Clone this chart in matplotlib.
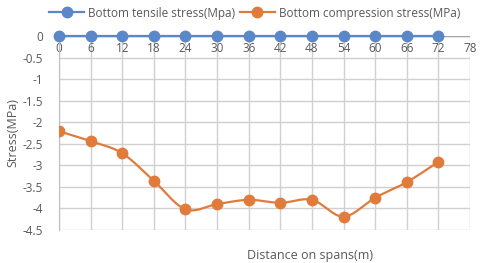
import numpy as np
import matplotlib.pyplot as plt

plt.rcParams['font.family'] = ['Open Sans', 'DejaVu Sans']

# data
distance = [0, 6, 12, 18, 24, 30, 36, 42, 48, 54, 60, 66, 72]
tensile = [0, 0, 0, 0, 0, 0, 0, 0, 0, 0, 0, 0, 0]
compression = [-2.21, -2.44, -2.72, -3.36, -4.02, -3.90, -3.80, -3.87, -3.80, -4.19, -3.75, -3.39, -2.92]
x_ticks = list(range(0, 79, 6))
y_ticks = [0, -0.5, -1, -1.5, -2, -2.5, -3, -3.5, -4, -4.5]

blue = '#5B87C8'
orange = '#E07B3C'
grey = '#595959'


def smooth(x, y, n=20):
    # Catmull-Rom curve through the points, like Excel's smoothed line
    x = np.asarray(x, float)
    y = np.asarray(y, float)
    px = np.concatenate([[2 * x[0] - x[1]], x, [2 * x[-1] - x[-2]]])
    py = np.concatenate([[2 * y[0] - y[1]], y, [2 * y[-1] - y[-2]]])
    t = np.linspace(0, 1, n, endpoint=False)
    xs, ys = [], []
    for i in range(1, len(px) - 2):
        for p, out in ((px, xs), (py, ys)):
            p0, p1, p2, p3 = p[i - 1], p[i], p[i + 1], p[i + 2]
            out.extend(0.5 * (2 * p1 + (-p0 + p2) * t
                              + (2 * p0 - 5 * p1 + 4 * p2 - p3) * t ** 2
                              + (-p0 + 3 * p1 - 3 * p2 + p3) * t ** 3))
    xs.append(x[-1])
    ys.append(y[-1])
    return np.array(xs), np.array(ys)


fig = plt.figure(figsize=(4.8, 2.63), dpi=100)
ax = fig.add_axes([59 / 480, 1 - 230 / 263, (470 - 59) / 480, (230 - 36) / 263])

ax.plot(distance, tensile, color=blue, lw=1.6, marker='o', ms=7.5,
        clip_on=False, zorder=3, label='Bottom tensile stress(Mpa)')
sx, sy = smooth(distance, compression)
ax.plot(sx, sy, color=orange, lw=1.6, zorder=3)
ax.plot(distance, compression, color=orange, lw=0, marker='o', ms=7.5, zorder=4)
ax.plot([], [], color=orange, lw=1.6, marker='o', ms=7.5,
        label='Bottom compression stress(MPa)')

ax.set_xlim(0, 78)
ax.set_ylim(-4.5, 0)
ax.set_xticks(x_ticks)
ax.set_yticks(y_ticks)
ax.set_yticklabels([f'{v:g}' for v in y_ticks])
ax.grid(True, color='#D0D0D0', lw=1)
ax.set_axisbelow(True)
for s in ['top', 'bottom', 'right']:
    ax.spines[s].set_visible(False)
ax.spines['left'].set_color('#BFBFBF')
ax.axhline(0, color='#A6A6A6', lw=1, zorder=2)

ax.tick_params(axis='x', top=False, bottom=False, labelbottom=False,
               labeltop=True, pad=-17, labelsize=8.5, labelcolor=grey)
ax.tick_params(axis='y', left=False, pad=8, labelsize=8.5, labelcolor=grey)

ax.set_xlabel('Distance on spans(m)', fontsize=9, color=grey)
ax.xaxis.set_label_coords(0.61, -0.1)
ax.set_ylabel('Stress(MPa)', fontsize=9, color=grey)
ax.yaxis.set_label_coords(-0.097, 0.5)

fig.legend(loc='center', bbox_to_anchor=(0.53, 1 - 13 / 263), ncol=2,
           frameon=False, fontsize=8.5, labelcolor=grey, handlelength=3,
           columnspacing=0.4, handletextpad=0.3)

fig.savefig('out.png', dpi=100)
